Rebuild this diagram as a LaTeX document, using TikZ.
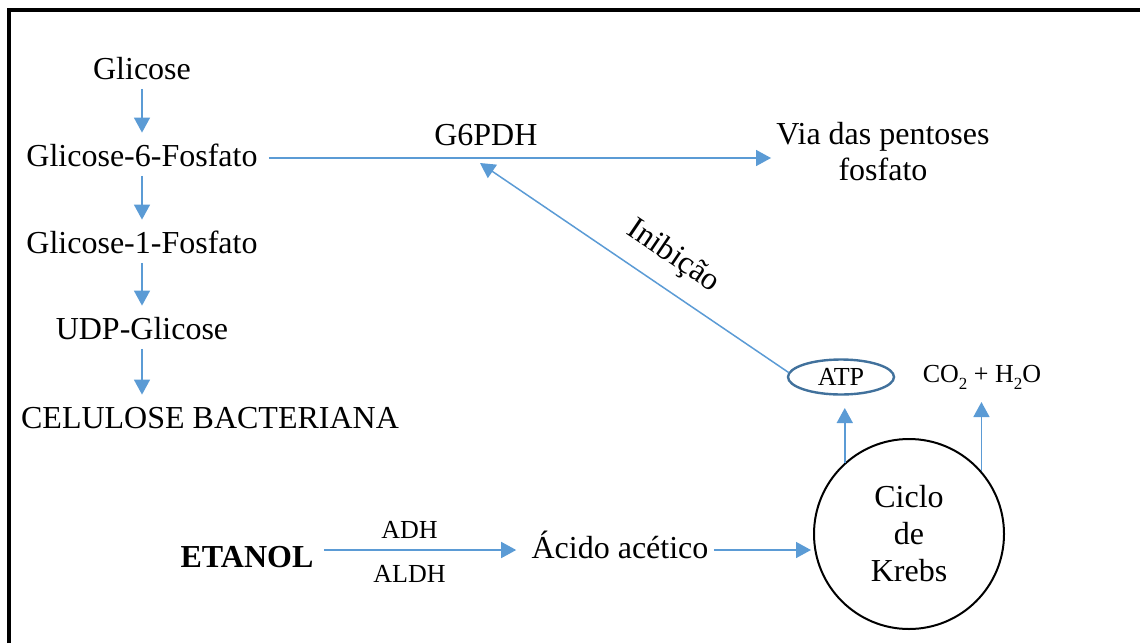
\documentclass[tikz,border=0pt]{standalone}
\usepackage{fontspec}
\setmainfont{Liberation Serif}
\usetikzlibrary{arrows.meta,shapes.geometric}
\definecolor{arrblue}{HTML}{5B9BD5}
\definecolor{atpblue}{HTML}{41719C}
\newcommand{\lowsub}[1]{\raisebox{-3.5pt}{\fontsize{8.5}{9}\selectfont #1}}
\tikzset{
  txt/.style={inner sep=0pt,anchor=base,font=\fontsize{16}{18}\selectfont,text height=11.2pt,text depth=3.2pt},
  sml/.style={txt,font=\fontsize{13}{15}\selectfont,text height=9.1pt,text depth=2.6pt},
  blk/.style={inner sep=0pt,align=center,font=\fontsize{16}{18}\selectfont},
  arr/.style={draw=arrblue,line width=0.75pt,-{Triangle[length=7.5pt,width=8pt]}},
  down/.style={arr,shorten <=1.5pt,shorten >=5.3pt}
}
\begin{document}
\begin{tikzpicture}[x=0.5pt,y=-0.5pt]
\useasboundingbox (0,0) rectangle (1140,643);
%frame
\draw[line width=2pt] (8.5,643) -- (8.5,10) -- (1140,10);
%cellulose route
\node[txt] (glc) at (142,79) {Glicose};
\node[txt] (g6p) at (142,166) {Glicose-6-Fosfato};
\node[txt] (g1p) at (142,253) {Glicose-1-Fosfato};
\node[txt] (udp) at (142,339) {UDP-Glicose};
\node[txt] (cel) at (210,428) {CELULOSE BACTERIANA};
\draw[down] (glc.south) -- (g6p.north);
\draw[down] (g6p.south) -- (g1p.north);
\draw[down] (g1p.south) -- (udp.north);
\draw[down] (udp.south) -- (udp.south |- cel.north);
%pentoses
\node[blk] (ppp) at (883,152) {Via das pentoses\\fosfato};
\draw[arr,shorten <=5.5pt,shorten >=2.5pt] (g6p.east) -- (g6p.east -| ppp.west)
  node[txt,pos=0.44,above=2.8pt] {G6PDH};
%Krebs
\node[circle,draw,line width=1pt,minimum size=95pt,inner sep=0pt,align=center,
      font=\fontsize{16}{18.5}\selectfont] (krebs) at (909,534) {Ciclo\\de\\Krebs};
\node[ellipse,draw=atpblue,line width=1.2pt,minimum width=53pt,minimum height=17.5pt,
      inner sep=0pt,font=\fontsize{13}{15}\selectfont] (atp) at (841,377) {ATP};
\node[sml] (co2) at (982,382) {CO\lowsub{2} + H\lowsub{2}O};
\draw[arr,shorten >=6.15pt] (krebs.132) -- (krebs.132 |- atp.south);
\draw[arr,shorten >=7.2pt] (krebs.41) -- (krebs.41 |- co2.south);
%inhibition
\coordinate (inh) at (480,163);
\draw[arr] (atp.175) -- (inh) node[txt,pos=0.43,sloped,above=8pt] {Inibição};
%ethanol
\node[txt,font=\fontsize{16}{18}\selectfont\bfseries] (eta) at (247,567) {ETANOL};
\node[txt] (ace) at (620,558) {Ácido acético};
\draw[arr,shorten <=5pt,shorten >=7.5pt] (ace.west -| eta.east) -- (ace.west)
  node[sml,pos=0.44,above=2.9pt] {ADH}
  node[sml,pos=0.44,below=6.9pt] {ALDH};
\draw[arr,shorten <=2.5pt,shorten >=1pt] (ace.east) -- (ace.east -| krebs.west);
\end{tikzpicture}
\end{document}
